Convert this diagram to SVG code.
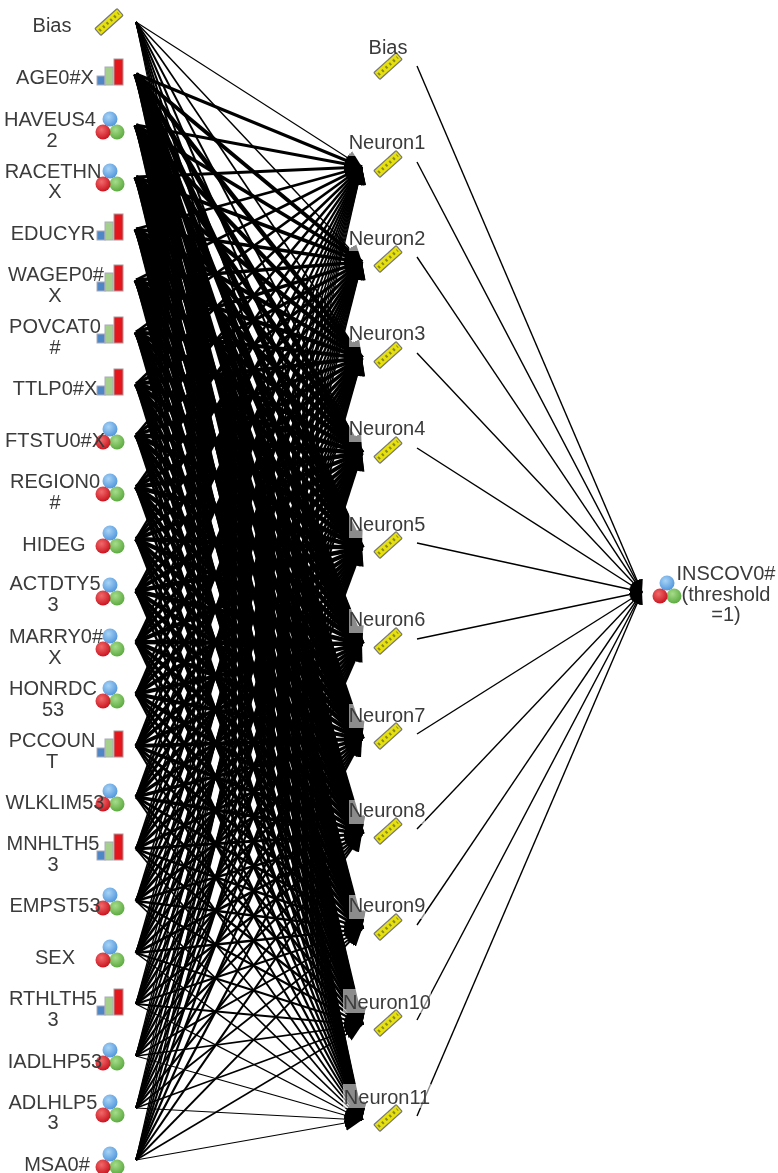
<svg xmlns="http://www.w3.org/2000/svg" width="778" height="1173" viewBox="0 0 778 1173">
<style>
text{font-family:"Liberation Sans",Arial,sans-serif;font-size:20px;fill:#3a3a3a;text-anchor:middle}
.c path{fill:none;stroke:#000;marker-end:url(#a);stroke-width:calc(var(--w)*var(--t)*1px)}
.c path:nth-child(1){--t:.85}.c path:nth-child(2){--t:1.1}.c path:nth-child(3){--t:1.3}.c path:nth-child(4){--t:1.5}.c path:nth-child(5){--t:1.6}.c path:nth-child(6){--t:1.6}.c path:nth-child(7){--t:1.6}.c path:nth-child(8){--t:1.5}.c path:nth-child(9){--t:1.3}.c path:nth-child(10){--t:1.15}.c path:nth-child(11){--t:.85}
.o path{fill:none;stroke:#000;stroke-width:1.4;marker-end:url(#b)}
.h{fill:#fff;fill-opacity:.55}
</style>
<defs>
<filter id="blur" x="0" y="0" width="100%" height="100%"><feGaussianBlur stdDeviation="0.7"/></filter>
<marker id="a" markerUnits="userSpaceOnUse" markerWidth="20" markerHeight="18" refX="17" refY="8" orient="auto"><path d="M0 0L17 8L0 16z" fill="#000"/></marker>
<marker id="b" markerUnits="userSpaceOnUse" markerWidth="14" markerHeight="14" refX="12" refY="6" orient="auto"><path d="M0 0L12 6L0 12z" fill="#000"/></marker>
<radialGradient id="gb" cx=".4" cy=".35" r=".7"><stop offset="0" stop-color="#a8d4f5"/><stop offset="1" stop-color="#4d93dc"/></radialGradient>
<radialGradient id="gr" cx=".4" cy=".35" r=".7"><stop offset="0" stop-color="#f06a6a"/><stop offset="1" stop-color="#c90f1c"/></radialGradient>
<radialGradient id="gg" cx=".4" cy=".35" r=".7"><stop offset="0" stop-color="#a6dc8a"/><stop offset="1" stop-color="#58a83c"/></radialGradient>
<g id="nom"><circle cx="110" cy="-6" r="7.5" fill="url(#gb)"/><circle cx="117" cy="7" r="7.5" fill="url(#gg)"/><circle cx="103" cy="7" r="7.5" fill="url(#gr)"/></g>
<g id="scale"><rect x="97" y="2" width="8" height="9" fill="#4f86c6" stroke="#aab"/><rect x="105" y="-7" width="8" height="18" fill="#a5cf8c" stroke="#aab"/><rect x="114" y="-15" width="9" height="26" fill="#e5141d" stroke="#a99"/></g>
<g id="ruler"><g transform="rotate(-42)"><rect x="-15" y="-4.5" width="30" height="9" rx="1" fill="#e6e010" stroke="#777" stroke-width="1.2"/><path d="M-13 0H13" stroke="#8a8a20" stroke-width="3" stroke-dasharray="2 3"/></g></g>
</defs>
<rect width="778" height="1173" fill="#fff"/>
<g filter="url(#blur)">
<g id="connectors">
<g class="c" style="--w:1.3"><path d="M136 22L362 167"/><path d="M136 22L362 262"/><path d="M136 22L362 358"/><path d="M136 22L362 453"/><path d="M136 22L362 548"/><path d="M136 22L362 644"/><path d="M136 22L362 739"/><path d="M136 22L362 834"/><path d="M136 22L362 929"/><path d="M136 22L362 1025"/><path d="M136 22L362 1120"/></g>
<g class="c" style="--w:3.5"><path d="M136 74L362 167"/><path d="M136 74L362 262"/><path d="M136 74L362 358"/><path d="M136 74L362 453"/><path d="M136 74L362 548"/><path d="M136 74L362 644"/><path d="M136 74L362 739"/><path d="M136 74L362 834"/><path d="M136 74L362 929"/><path d="M136 74L362 1025"/><path d="M136 74L362 1120"/></g>
<g class="c" style="--w:3.3"><path d="M136 125L362 167"/><path d="M136 125L362 262"/><path d="M136 125L362 358"/><path d="M136 125L362 453"/><path d="M136 125L362 548"/><path d="M136 125L362 644"/><path d="M136 125L362 739"/><path d="M136 125L362 834"/><path d="M136 125L362 929"/><path d="M136 125L362 1025"/><path d="M136 125L362 1120"/></g>
<g class="c" style="--w:3.3"><path d="M136 177L362 167"/><path d="M136 177L362 262"/><path d="M136 177L362 358"/><path d="M136 177L362 453"/><path d="M136 177L362 548"/><path d="M136 177L362 644"/><path d="M136 177L362 739"/><path d="M136 177L362 834"/><path d="M136 177L362 929"/><path d="M136 177L362 1025"/><path d="M136 177L362 1120"/></g>
<g class="c" style="--w:3.2"><path d="M136 229L362 167"/><path d="M136 229L362 262"/><path d="M136 229L362 358"/><path d="M136 229L362 453"/><path d="M136 229L362 548"/><path d="M136 229L362 644"/><path d="M136 229L362 739"/><path d="M136 229L362 834"/><path d="M136 229L362 929"/><path d="M136 229L362 1025"/><path d="M136 229L362 1120"/></g>
<g class="c" style="--w:3.2"><path d="M136 280L362 167"/><path d="M136 280L362 262"/><path d="M136 280L362 358"/><path d="M136 280L362 453"/><path d="M136 280L362 548"/><path d="M136 280L362 644"/><path d="M136 280L362 739"/><path d="M136 280L362 834"/><path d="M136 280L362 929"/><path d="M136 280L362 1025"/><path d="M136 280L362 1120"/></g>
<g class="c" style="--w:3.1"><path d="M136 332L362 167"/><path d="M136 332L362 262"/><path d="M136 332L362 358"/><path d="M136 332L362 453"/><path d="M136 332L362 548"/><path d="M136 332L362 644"/><path d="M136 332L362 739"/><path d="M136 332L362 834"/><path d="M136 332L362 929"/><path d="M136 332L362 1025"/><path d="M136 332L362 1120"/></g>
<g class="c" style="--w:3"><path d="M136 384L362 167"/><path d="M136 384L362 262"/><path d="M136 384L362 358"/><path d="M136 384L362 453"/><path d="M136 384L362 548"/><path d="M136 384L362 644"/><path d="M136 384L362 739"/><path d="M136 384L362 834"/><path d="M136 384L362 929"/><path d="M136 384L362 1025"/><path d="M136 384L362 1120"/></g>
<g class="c" style="--w:3"><path d="M136 435L362 167"/><path d="M136 435L362 262"/><path d="M136 435L362 358"/><path d="M136 435L362 453"/><path d="M136 435L362 548"/><path d="M136 435L362 644"/><path d="M136 435L362 739"/><path d="M136 435L362 834"/><path d="M136 435L362 929"/><path d="M136 435L362 1025"/><path d="M136 435L362 1120"/></g>
<g class="c" style="--w:2.9"><path d="M136 487L362 167"/><path d="M136 487L362 262"/><path d="M136 487L362 358"/><path d="M136 487L362 453"/><path d="M136 487L362 548"/><path d="M136 487L362 644"/><path d="M136 487L362 739"/><path d="M136 487L362 834"/><path d="M136 487L362 929"/><path d="M136 487L362 1025"/><path d="M136 487L362 1120"/></g>
<g class="c" style="--w:2.8"><path d="M136 539L362 167"/><path d="M136 539L362 262"/><path d="M136 539L362 358"/><path d="M136 539L362 453"/><path d="M136 539L362 548"/><path d="M136 539L362 644"/><path d="M136 539L362 739"/><path d="M136 539L362 834"/><path d="M136 539L362 929"/><path d="M136 539L362 1025"/><path d="M136 539L362 1120"/></g>
<g class="c" style="--w:2.8"><path d="M136 591L362 167"/><path d="M136 591L362 262"/><path d="M136 591L362 358"/><path d="M136 591L362 453"/><path d="M136 591L362 548"/><path d="M136 591L362 644"/><path d="M136 591L362 739"/><path d="M136 591L362 834"/><path d="M136 591L362 929"/><path d="M136 591L362 1025"/><path d="M136 591L362 1120"/></g>
<g class="c" style="--w:2.7"><path d="M136 642L362 167"/><path d="M136 642L362 262"/><path d="M136 642L362 358"/><path d="M136 642L362 453"/><path d="M136 642L362 548"/><path d="M136 642L362 644"/><path d="M136 642L362 739"/><path d="M136 642L362 834"/><path d="M136 642L362 929"/><path d="M136 642L362 1025"/><path d="M136 642L362 1120"/></g>
<g class="c" style="--w:2.6"><path d="M136 694L362 167"/><path d="M136 694L362 262"/><path d="M136 694L362 358"/><path d="M136 694L362 453"/><path d="M136 694L362 548"/><path d="M136 694L362 644"/><path d="M136 694L362 739"/><path d="M136 694L362 834"/><path d="M136 694L362 929"/><path d="M136 694L362 1025"/><path d="M136 694L362 1120"/></g>
<g class="c" style="--w:2.4"><path d="M136 746L362 167"/><path d="M136 746L362 262"/><path d="M136 746L362 358"/><path d="M136 746L362 453"/><path d="M136 746L362 548"/><path d="M136 746L362 644"/><path d="M136 746L362 739"/><path d="M136 746L362 834"/><path d="M136 746L362 929"/><path d="M136 746L362 1025"/><path d="M136 746L362 1120"/></g>
<g class="c" style="--w:2.2"><path d="M136 797L362 167"/><path d="M136 797L362 262"/><path d="M136 797L362 358"/><path d="M136 797L362 453"/><path d="M136 797L362 548"/><path d="M136 797L362 644"/><path d="M136 797L362 739"/><path d="M136 797L362 834"/><path d="M136 797L362 929"/><path d="M136 797L362 1025"/><path d="M136 797L362 1120"/></g>
<g class="c" style="--w:2"><path d="M136 849L362 167"/><path d="M136 849L362 262"/><path d="M136 849L362 358"/><path d="M136 849L362 453"/><path d="M136 849L362 548"/><path d="M136 849L362 644"/><path d="M136 849L362 739"/><path d="M136 849L362 834"/><path d="M136 849L362 929"/><path d="M136 849L362 1025"/><path d="M136 849L362 1120"/></g>
<g class="c" style="--w:1.9"><path d="M136 901L362 167"/><path d="M136 901L362 262"/><path d="M136 901L362 358"/><path d="M136 901L362 453"/><path d="M136 901L362 548"/><path d="M136 901L362 644"/><path d="M136 901L362 739"/><path d="M136 901L362 834"/><path d="M136 901L362 929"/><path d="M136 901L362 1025"/><path d="M136 901L362 1120"/></g>
<g class="c" style="--w:1.8"><path d="M136 953L362 167"/><path d="M136 953L362 262"/><path d="M136 953L362 358"/><path d="M136 953L362 453"/><path d="M136 953L362 548"/><path d="M136 953L362 644"/><path d="M136 953L362 739"/><path d="M136 953L362 834"/><path d="M136 953L362 929"/><path d="M136 953L362 1025"/><path d="M136 953L362 1120"/></g>
<g class="c" style="--w:1.6"><path d="M136 1004L362 167"/><path d="M136 1004L362 262"/><path d="M136 1004L362 358"/><path d="M136 1004L362 453"/><path d="M136 1004L362 548"/><path d="M136 1004L362 644"/><path d="M136 1004L362 739"/><path d="M136 1004L362 834"/><path d="M136 1004L362 929"/><path d="M136 1004L362 1025"/><path d="M136 1004L362 1120"/></g>
<g class="c" style="--w:1.5"><path d="M136 1056L362 167"/><path d="M136 1056L362 262"/><path d="M136 1056L362 358"/><path d="M136 1056L362 453"/><path d="M136 1056L362 548"/><path d="M136 1056L362 644"/><path d="M136 1056L362 739"/><path d="M136 1056L362 834"/><path d="M136 1056L362 929"/><path d="M136 1056L362 1025"/><path d="M136 1056L362 1120"/></g>
<g class="c" style="--w:1.4"><path d="M136 1108L362 167"/><path d="M136 1108L362 262"/><path d="M136 1108L362 358"/><path d="M136 1108L362 453"/><path d="M136 1108L362 548"/><path d="M136 1108L362 644"/><path d="M136 1108L362 739"/><path d="M136 1108L362 834"/><path d="M136 1108L362 929"/><path d="M136 1108L362 1025"/><path d="M136 1108L362 1120"/></g>
<g class="c" style="--w:1.4"><path d="M136 1160L362 167"/><path d="M136 1160L362 262"/><path d="M136 1160L362 358"/><path d="M136 1160L362 453"/><path d="M136 1160L362 548"/><path d="M136 1160L362 644"/><path d="M136 1160L362 739"/><path d="M136 1160L362 834"/><path d="M136 1160L362 929"/><path d="M136 1160L362 1025"/><path d="M136 1160L362 1120"/></g>
<g class="o"><path d="M417 66L642 592"/><path d="M417 162L642 592"/><path d="M417 257L642 592"/><path d="M417 353L642 592"/><path d="M417 448L642 592"/><path d="M417 543L642 592"/><path d="M417 639L642 592"/><path d="M417 734L642 592"/><path d="M417 829L642 592"/><path d="M417 925L642 592"/><path d="M417 1020L642 592"/><path d="M417 1116L642 592"/></g>
</g>
<g id="in-bias"><use href="#ruler" x="109" y="22"/><text x="52" y="32">Bias</text></g>
<g id="in-age"><use href="#scale" y="74"/><text x="55" y="84">AGE0#X</text></g>
<g id="in-haveus42"><use href="#nom" y="125"/><text x="50" y="126">HAVEUS4</text><text x="52" y="147">2</text></g>
<g id="in-racethnx"><use href="#nom" y="177"/><text x="53" y="178">RACETHN</text><text x="55" y="198">X</text></g>
<g id="in-educyr"><use href="#scale" y="229"/><text x="53" y="240">EDUCYR</text></g>
<g id="in-wagep"><use href="#scale" y="280"/><text x="56" y="281">WAGEP0#</text><text x="55" y="302">X</text></g>
<g id="in-povcat"><use href="#scale" y="332"/><text x="55" y="333">POVCAT0</text><text x="55" y="354">#</text></g>
<g id="in-ttlp"><use href="#scale" y="384"/><text x="55" y="395">TTLP0#X</text></g>
<g id="in-ftstu"><use href="#nom" y="435"/><text x="55" y="447">FTSTU0#X</text></g>
<g id="in-region"><use href="#nom" y="487"/><text x="55" y="488">REGION0</text><text x="55" y="509">#</text></g>
<g id="in-hideg"><use href="#nom" y="539"/><text x="54" y="551">HIDEG</text></g>
<g id="in-actdty"><use href="#nom" y="591"/><text x="55" y="590">ACTDTY5</text><text x="53" y="611">3</text></g>
<g id="in-marry"><use href="#nom" y="642"/><text x="56" y="643">MARRY0#</text><text x="55" y="664">X</text></g>
<g id="in-honrdc"><use href="#nom" y="694"/><text x="53" y="695">HONRDC</text><text x="53" y="716">53</text></g>
<g id="in-pccount"><use href="#scale" y="746"/><text x="52" y="747">PCCOUN</text><text x="52" y="768">T</text></g>
<g id="in-wlklim"><use href="#nom" y="797"/><text x="55" y="809">WLKLIM53</text></g>
<g id="in-mnhlth"><use href="#scale" y="849"/><text x="53" y="850">MNHLTH5</text><text x="53" y="871">3</text></g>
<g id="in-empst"><use href="#nom" y="901"/><text x="55" y="912">EMPST53</text></g>
<g id="in-sex"><use href="#nom" y="953"/><text x="55" y="964">SEX</text></g>
<g id="in-rthlth"><use href="#scale" y="1004"/><text x="53" y="1005">RTHLTH5</text><text x="53" y="1026">3</text></g>
<g id="in-iadlhp"><use href="#nom" y="1056"/><text x="55" y="1068">IADLHP53</text></g>
<g id="in-adlhlp"><use href="#nom" y="1108"/><text x="53" y="1109">ADLHLP5</text><text x="53" y="1129">3</text></g>
<g id="in-msa"><use href="#nom" y="1160"/><text x="57" y="1171">MSA0#</text></g>
<g id="h-bias"><use href="#ruler" x="388" y="66"/><text x="388" y="54">Bias</text></g>
<g id="h-n1"><rect class="h" x="349" y="132" width="76" height="24"/><use href="#ruler" x="388" y="164"/><text x="387" y="149">Neuron1</text></g>
<g id="h-n2"><rect class="h" x="349" y="227" width="76" height="24"/><use href="#ruler" x="388" y="259"/><text x="387" y="245">Neuron2</text></g>
<g id="h-n3"><rect class="h" x="349" y="323" width="76" height="24"/><use href="#ruler" x="388" y="355"/><text x="387" y="340">Neuron3</text></g>
<g id="h-n4"><rect class="h" x="349" y="418" width="76" height="24"/><use href="#ruler" x="388" y="450"/><text x="387" y="435">Neuron4</text></g>
<g id="h-n5"><rect class="h" x="349" y="514" width="76" height="24"/><use href="#ruler" x="388" y="545"/><text x="387" y="531">Neuron5</text></g>
<g id="h-n6"><rect class="h" x="349" y="609" width="76" height="24"/><use href="#ruler" x="388" y="641"/><text x="387" y="626">Neuron6</text></g>
<g id="h-n7"><rect class="h" x="349" y="704" width="76" height="24"/><use href="#ruler" x="388" y="736"/><text x="387" y="722">Neuron7</text></g>
<g id="h-n8"><rect class="h" x="349" y="800" width="76" height="24"/><use href="#ruler" x="388" y="831"/><text x="387" y="817">Neuron8</text></g>
<g id="h-n9"><rect class="h" x="349" y="895" width="76" height="24"/><use href="#ruler" x="388" y="927"/><text x="387" y="912">Neuron9</text></g>
<g id="h-n10"><rect class="h" x="343" y="989" width="88" height="24"/><use href="#ruler" x="388" y="1023"/><text x="387" y="1009">Neuron10</text></g>
<g id="h-n11"><rect class="h" x="343" y="1084" width="88" height="24"/><use href="#ruler" x="388" y="1118"/><text x="387" y="1104">Neuron11</text></g>
<g id="out-inscov"><use href="#nom" x="557" y="589"/><text x="726" y="580">INSCOV0#</text><text x="726" y="601">(threshold</text><text x="726" y="621">=1)</text></g>
</g>
</svg>
